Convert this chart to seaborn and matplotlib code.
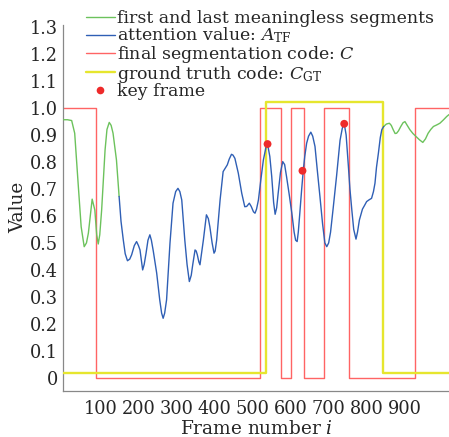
import numpy as np
import pandas as pd
import matplotlib
matplotlib.use("Agg")
import matplotlib.pyplot as plt
import seaborn as sns
from matplotlib.lines import Line2D

# ---------------- data ----------------
green_first_x = [0, 12, 23, 31, 40, 48, 56, 62, 67, 77, 84, 89, 93, 97, 102, 111, 116, 122, 127, 132, 141, 148]
green_first_y = [0.956, 0.956, 0.953, 0.906, 0.721, 0.56, 0.486, 0.50, 0.536, 0.662, 0.622, 0.53, 0.496, 0.53,
                 0.622, 0.844, 0.92, 0.946, 0.935, 0.906, 0.807, 0.672]

attn_x = [148, 153, 159, 164, 170, 176, 181, 188, 194, 199, 203, 210, 214, 219, 224, 229, 233, 238, 247, 255,
          260, 264, 268, 273, 282, 290, 297, 303, 308, 313, 321, 327, 333, 338, 342, 348, 351, 354, 358, 361,
          365, 370, 378, 383, 387, 393, 398, 401, 405, 414, 422, 433, 438, 444, 448, 453, 462, 471, 479, 484,
          491, 496, 502, 506, 510, 515, 521, 528, 535, 539, 545, 550, 555, 559, 563, 567, 573, 579, 584, 589,
          596, 603, 609, 613, 617, 620, 624, 629, 633, 637, 642, 647, 653, 658, 664, 670, 677, 684, 690, 695,
          700, 705, 712, 721, 730, 736, 741, 746, 752, 756, 761, 766, 772, 776, 781, 789, 795, 800, 807, 813,
          818, 822, 826, 831, 836, 840, 845]
attn_y = [0.672, 0.58, 0.511, 0.46, 0.434, 0.44, 0.456, 0.49, 0.505, 0.49, 0.474, 0.40, 0.42, 0.462, 0.51, 0.53,
          0.51, 0.47, 0.388, 0.289, 0.24, 0.221, 0.24, 0.289, 0.499, 0.647, 0.69, 0.702, 0.69, 0.659, 0.511, 0.42,
          0.357, 0.38, 0.42, 0.474, 0.47, 0.456, 0.43, 0.419, 0.46, 0.511, 0.604, 0.59, 0.56, 0.50, 0.462, 0.47,
          0.511, 0.659, 0.764, 0.789, 0.81, 0.828, 0.825, 0.813, 0.758, 0.684, 0.634, 0.635, 0.647, 0.635, 0.615,
          0.61, 0.625, 0.659, 0.73, 0.807, 0.855, 0.866, 0.82, 0.746, 0.65, 0.606, 0.63, 0.684, 0.76, 0.801, 0.79,
          0.746, 0.68, 0.61, 0.54, 0.51, 0.505, 0.54, 0.61, 0.70, 0.767, 0.82, 0.869, 0.895, 0.91, 0.895, 0.857,
          0.77, 0.672, 0.57, 0.50, 0.486, 0.50, 0.54, 0.63, 0.75, 0.88, 0.925, 0.941, 0.90, 0.783, 0.70, 0.622,
          0.55, 0.514, 0.54, 0.585, 0.625, 0.64, 0.653, 0.66, 0.665, 0.69, 0.721, 0.78, 0.832, 0.89, 0.919, 0.931]

green_last_x = [845, 852, 860, 865, 870, 875, 879, 884, 890, 896, 901, 907, 914, 922, 930, 939, 948, 955, 962,
                969, 976, 985, 993, 1002, 1011, 1017]
green_last_y = [0.931, 0.94, 0.943, 0.935, 0.919, 0.905, 0.906, 0.915, 0.931, 0.945, 0.949, 0.935, 0.919, 0.905,
                0.894, 0.882, 0.872, 0.885, 0.906, 0.92, 0.931, 0.937, 0.943, 0.955, 0.968, 0.975]

code_x = [1, 86, 518, 575, 601, 635, 687, 753, 927, 1017]
code_y = [1, 0, 1, 0, 1, 0, 1, 0, 1, 1]

gt_x = [1, 535, 843, 1017]
gt_y = [0, 1, 0, 0]

key_x = [539, 631, 741]
key_y = [0.866, 0.767, 0.941]

x_ticks = [100, 200, 300, 400, 500, 600, 700, 800, 900]
y_ticks = [0, 0.1, 0.2, 0.3, 0.4, 0.5, 0.6, 0.7, 0.8, 0.9, 1.0, 1.1, 1.2, 1.3]
y_tick_labels = ["0", "0.1", "0.2", "0.3", "0.4", "0.5", "0.6", "0.7", "0.8", "0.9", "1.0", "1.1", "1.2", "1.3"]

labels = ["first and last meaningless segments",
          r"attention value: $A_{\mathrm{TF}}$",
          r"final segmentation code: $C$",
          r"ground truth code: $C_{\mathrm{GT}}$",
          "key frame"]

# ---------------- style ----------------
sns.set_style("white")
plt.rcParams["font.family"] = ["DejaVu Serif"]
plt.rcParams["mathtext.fontset"] = "dejavuserif"
FS_LEG = 12.5
FS_TICK = 12.8
FS_LAB = 13.3

GREEN = "#6cc25c"
BLUE = "#2f5fb5"
RED = "#ff6464"
YELLOW = "#e6e62e"
DOT = "#ee2a2a"

fig = plt.figure(figsize=(4.49, 4.37), dpi=100)
ax = fig.add_axes([0.141, 0.106, 0.859, 0.837])

df_g1 = pd.DataFrame({"frame": green_first_x, "value": green_first_y})
df_a = pd.DataFrame({"frame": attn_x, "value": attn_y})
df_g2 = pd.DataFrame({"frame": green_last_x, "value": green_last_y})
df_c = pd.DataFrame({"frame": code_x, "value": code_y})
df_gt = pd.DataFrame({"frame": gt_x, "value": np.array(gt_y) + 0.02})
df_k = pd.DataFrame({"frame": key_x, "value": key_y})

sns.lineplot(data=df_c, x="frame", y="value", ax=ax, color=RED, lw=1.0, drawstyle="steps-post", zorder=2)
sns.lineplot(data=df_gt, x="frame", y="value", ax=ax, color=YELLOW, lw=1.7, drawstyle="steps-post", zorder=3)
sns.lineplot(data=df_g1, x="frame", y="value", ax=ax, color=GREEN, lw=1.0, zorder=4)
sns.lineplot(data=df_g2, x="frame", y="value", ax=ax, color=GREEN, lw=1.0, zorder=4)
sns.lineplot(data=df_a, x="frame", y="value", ax=ax, color=BLUE, lw=1.0, zorder=4)
sns.scatterplot(data=df_k, x="frame", y="value", ax=ax, color=DOT, s=32, edgecolor="none", zorder=5)

ax.set_xlim(1, 1017)
ax.set_ylim(-0.047, 1.307)
ax.set_xticks(x_ticks)
ax.set_xticklabels([str(t) for t in x_ticks])
ax.set_yticks(y_ticks)
ax.set_yticklabels(y_tick_labels)
ax.tick_params(direction="in", length=4, width=0.8, color="#888888", labelsize=FS_TICK)
ax.tick_params(axis="x", pad=7)
ax.tick_params(axis="y", pad=4)
for s in ["top", "right"]:
    ax.spines[s].set_visible(False)
for s in ["left", "bottom"]:
    ax.spines[s].set_color("#888888")
    ax.spines[s].set_linewidth(0.9)

ax.set_xlabel(r"Frame number $i$", fontsize=FS_LAB, labelpad=1)
ax.set_ylabel("Value", fontsize=FS_LAB, labelpad=2)

handles = [Line2D([], [], color=GREEN, lw=1.0),
           Line2D([], [], color=BLUE, lw=1.0),
           Line2D([], [], color=RED, lw=1.0),
           Line2D([], [], color=YELLOW, lw=1.7),
           Line2D([], [], color=DOT, marker="o", ms=5.5, ls="none", markeredgecolor="none")]
leg = fig.legend(handles, labels, loc="upper left", bbox_to_anchor=(0.172, 0.997),
                 frameon=False, fontsize=FS_LEG, borderpad=0, labelspacing=-0.08,
                 handlelength=1.65, handletextpad=0.15)

fig.savefig("out.png", dpi=100)
